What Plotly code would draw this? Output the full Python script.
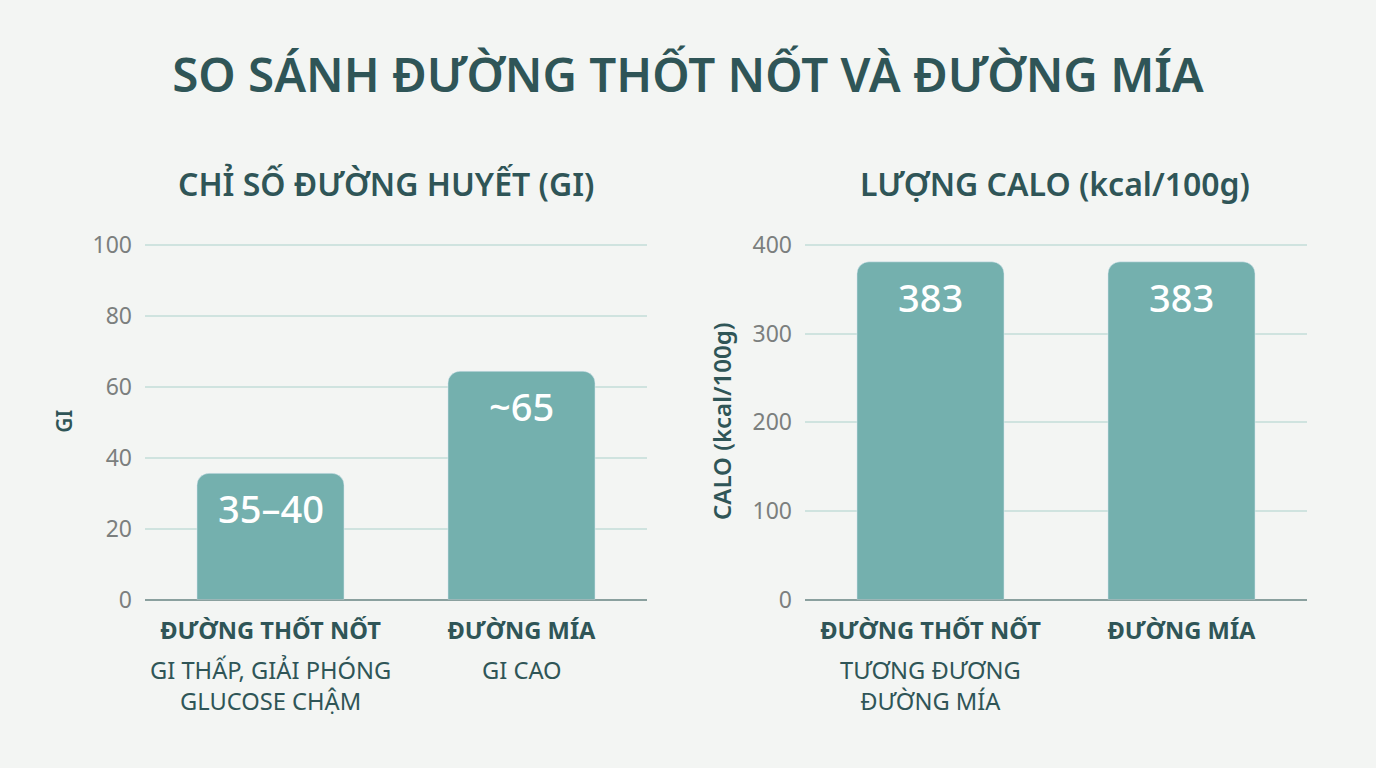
import plotly.graph_objects as go
from plotly.subplots import make_subplots

FONT = "Noto Sans"
TEAL = "#74b0ae"
DARK = "#2f5557"
GRAY = "#7b7f7e"
GRID = "#cfe3df"
BG = "#f3f5f3"

categorias = ["ĐƯỜNG THỐT NỐT", "ĐƯỜNG MÍA"]
gi_valores = [35.6, 64.4]
gi_textos = ["35–40", "~65"]
gi_notas = ["GI THẤP, GIẢI PHÓNG<br>GLUCOSE CHẬM", "GI CAO"]
gi_ticks = [0, 20, 40, 60, 80, 100]
calo_valores = [381, 381]
calo_textos = ["383", "383"]
calo_notas = ["TƯƠNG ĐƯƠNG<br>ĐƯỜNG MÍA", ""]
calo_ticks = [0, 100, 200, 300, 400]

fig = make_subplots(rows=1, cols=2)

fig.add_trace(go.Bar(x=categorias, y=gi_valores, width=0.586, marker_color=TEAL, hoverinfo="skip"), row=1, col=1)
fig.add_trace(go.Bar(x=categorias, y=calo_valores, width=0.586, marker_color=TEAL, hoverinfo="skip"), row=1, col=2)

for xref, valores, textos, notas in [
    ("x", gi_valores, gi_textos, gi_notas),
    ("x2", calo_valores, calo_textos, calo_notas),
]:
    yref = "y" if xref == "x" else "y2"
    for cat, val, txt, nota in zip(categorias, valores, textos, notas):
        fig.add_annotation(x=cat, y=val, xref=xref, yref=yref, text=txt, showarrow=False, yshift=-35,
                           font=dict(family=FONT, size=38, color="white", weight=500))
        if nota:
            fig.add_annotation(x=cat, y=0.2194 - 52 / 768, xref=xref, yref="paper", text=nota, showarrow=False,
                               yanchor="top", font=dict(family=FONT, size=23.7, color=DARK))

fig.add_annotation(x=386 / 1376, y=1 - 183 / 768, xref="paper", yref="paper", text="CHỈ SỐ ĐƯỜNG HUYẾT (GI)",
                   showarrow=False, xanchor="center", yanchor="middle",
                   font=dict(family=FONT, size=32, color=DARK, weight=600))
fig.add_annotation(x=1055 / 1376, y=1 - 183 / 768, xref="paper", yref="paper", text="LƯỢNG CALO (kcal/100g)",
                   showarrow=False, xanchor="center", yanchor="middle",
                   font=dict(family=FONT, size=32, color=DARK, weight=600))

fig.update_xaxes(showgrid=False, showline=False, ticks="", ticklabelstandoff=15,
                 tickfont=dict(family=FONT, size=23.7, color=DARK, weight=700))
fig.update_yaxes(showgrid=True, gridcolor=GRID, gridwidth=1.5, zeroline=True, zerolinecolor="#8aa09e", zerolinewidth=2,
                 ticks="", showline=False, ticklabelstandoff=12, tickfont=dict(family=FONT, size=23, color=GRAY))

fig.update_layout(
    width=1376,
    height=768,
    margin=dict(l=0, r=0, t=0, b=0),
    paper_bgcolor=BG,
    plot_bgcolor=BG,
    showlegend=False,
    barcornerradius=12,
    title=dict(text="SO SÁNH ĐƯỜNG THỐT NỐT VÀ ĐƯỜNG MÍA", x=0.5, xanchor="center", y=1 - 75 / 768, yanchor="middle",
               font=dict(family=FONT, size=47.5, color=DARK, weight=600)),
    xaxis=dict(domain=[145 / 1376, 647 / 1376], automargin=False),
    xaxis2=dict(domain=[805 / 1376, 1307 / 1376], automargin=False),
    # a bit of headroom, otherwise plotly drops the gridline at the top tick
    yaxis=dict(domain=[0.2194, 0.6836], range=[0, 100.56], tickvals=gi_ticks, automargin=False,
               title=dict(text="GI", standoff=14, font=dict(family=FONT, size=21, color=DARK, weight=600))),
    yaxis2=dict(domain=[0.2194, 0.6836], range=[0, 402.25], tickvals=calo_ticks, automargin=False,
                title=dict(text="CALO (kcal/100g)", standoff=14, font=dict(family=FONT, size=24, color=DARK, weight=600))),
)

fig.write_html("out.html", config={"displayModeBar": False},
               post_script="document.body.style.margin='0';document.body.style.background='" + BG + "';")
